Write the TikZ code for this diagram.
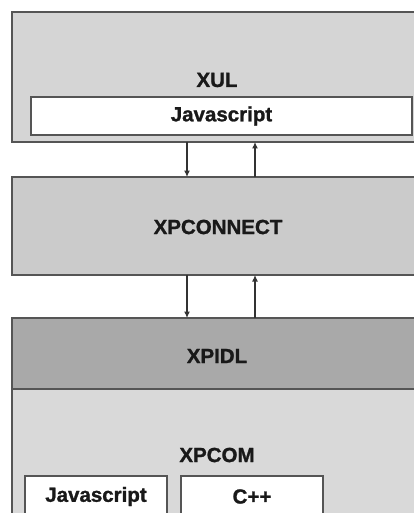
\documentclass[tikz,border=0pt]{standalone}
\usepackage{fontspec}
\setmainfont{Liberation Sans}[BoldFeatures={FakeBold=1.2}]
\usetikzlibrary{arrows.meta}
\definecolor{edgegray}{HTML}{555555}
\definecolor{xulfill}{HTML}{D5D5D5}
\definecolor{connfill}{HTML}{CBCBCB}
\definecolor{idlfill}{HTML}{A9A9A9}
\definecolor{comfill}{HTML}{D9D9D9}
\tikzset{
  layer/.style={draw=edgegray, line width=1.8pt, inner sep=0pt, outer sep=0pt},
  langbox/.style={layer, fill=white, line width=1.6pt},
  lbl/.style={font=\bfseries\fontsize{20.5}{24}\selectfont, inner sep=0pt, text=black!90},
  link/.style={draw=black!80, line width=1.2pt, -{Latex[length=6.5pt,width=6pt]}}
}
\begin{document}
\begin{tikzpicture}[x=1pt,y=-1pt]
  \useasboundingbox (0,0) rectangle (414,513);
  \clip (0,0) rectangle (414,513);
  \fill[white] (0,0) rectangle (414,513);

  % XUL layer with its Javascript box
  \node[layer, fill=xulfill, minimum width=418pt, minimum height=130pt, anchor=north west] (xul) at (12,12) {};
  \node[lbl] (xullbl) at (217,80) {XUL};
  \node[langbox, minimum width=381pt, minimum height=38pt, anchor=north west] (xuljs) at (31,97) {};
  \node[lbl] at (xuljs.center) {Javascript};

  % XPCONNECT layer
  \node[layer, fill=connfill, minimum width=418pt, minimum height=98pt, anchor=north west] (conn) at (12,177) {};
  \node[lbl] at (218,227) {XPCONNECT};

  % XPIDL layer
  \node[layer, fill=idlfill, minimum width=418pt, minimum height=71pt, anchor=north west] (idl) at (12,318) {};
  \node[lbl] at (217,356) {XPIDL};

  % XPCOM layer with its language boxes
  \node[layer, fill=comfill, minimum width=418pt, minimum height=140pt, anchor=north west] (com) at (12,389) {};
  \node[lbl] at (217,455) {XPCOM};
  \node[langbox, minimum width=142pt, minimum height=40pt, anchor=north west] (comjs) at (25,476) {};
  \node[lbl] at ([yshift=-0.5pt]comjs.center) {Javascript};
  \node[langbox, minimum width=142pt, minimum height=40pt, anchor=north west] (comcpp) at (181,476) {};
  \node[lbl] at ([yshift=-0.5pt]comcpp.center) {C++};

  % calls between the layers
  \coordinate (a1) at (187,142);
  \coordinate (a2) at (255,142);
  \path[link] (a1) -- (a1 |- conn.north);
  \path[link] (a2 |- conn.north) -- (a2);
  \path[link] (a1 |- conn.south) -- (a1 |- idl.north);
  \path[link] (a2 |- idl.north) -- (a2 |- conn.south);
\end{tikzpicture}
\end{document}
